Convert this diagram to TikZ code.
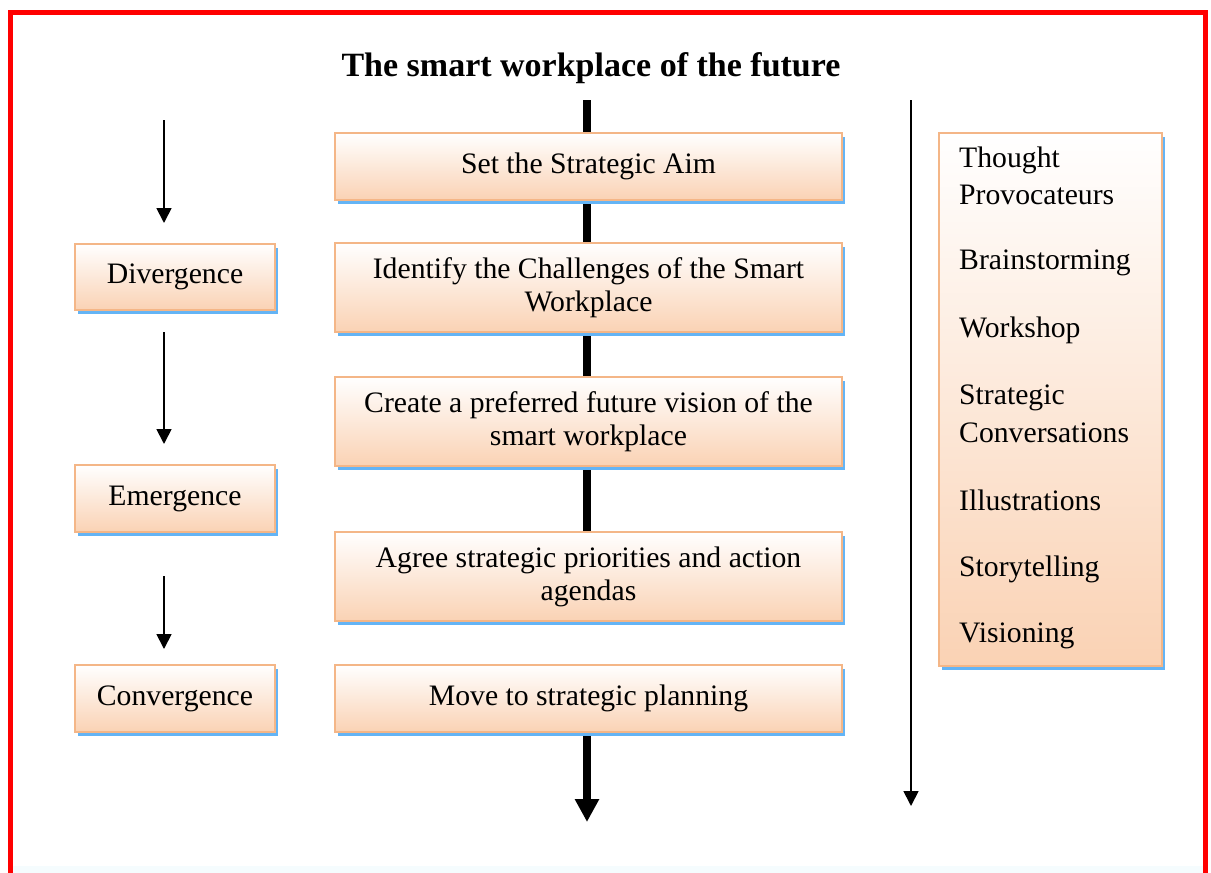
\documentclass[tikz,border=0pt]{standalone}
\usepackage{fontspec}
\setmainfont{Liberation Serif}
\usetikzlibrary{arrows.meta,shadows,calc}
\definecolor{peach}{RGB}{250,210,180}
\definecolor{peachborder}{RGB}{244,182,135}
\definecolor{shadowblue}{RGB}{100,180,245}
\definecolor{framered}{RGB}{255,0,0}
\tikzset{
  pbox/.style={draw=peachborder, line width=1.6pt, top color=white, bottom color=peach,
    drop shadow={shadow xshift=3pt, shadow yshift=-4pt, fill=shadowblue, opacity=1},
    align=center, inner sep=0pt, font=\fontsize{29.7}{33}\selectfont},
  lbl/.style={anchor=west, inner sep=0pt, font=\fontsize{29.7}{33}\selectfont},
  thin/.style={line width=1.8pt, -{Triangle[width=15pt,length=15pt]}},
  thick/.style={line width=7.5pt, -{Triangle[width=23pt,length=23pt]}},
}
\begin{document}
\begin{tikzpicture}[x=1pt,y=-1pt]
\useasboundingbox (0,0) rectangle (1211,873);
\fill[cyan!4] (12,866) rectangle (1205,873);
\draw[framered, line width=5pt] (10.5,12.5) rectangle (1205.5,890);
\node[font=\bfseries\fontsize{34}{40}\selectfont, inner sep=0pt] (title) at (591,68) {The smart workplace of the future};
% centre column
\coordinate (ctop) at (587,100);
\coordinate (cbot) at (587,822);
\draw[line width=7.5pt] (ctop) -- (587,600);
\node[pbox, minimum width=507pt, minimum height=67pt] (b1) at (588.5,166.5) {Set the Strategic Aim};
\node[pbox, minimum width=507pt, minimum height=89pt] (b2) at (588.5,287.5) {Identify the Challenges of the Smart\\Workplace};
\node[pbox, minimum width=507pt, minimum height=89pt] (b3) at (588.5,421.5) {Create a preferred future vision of the\\smart workplace};
\node[pbox, minimum width=507pt, minimum height=89pt] (b4) at (588.5,576.5) {Agree strategic priorities and action\\agendas};
\node[pbox, minimum width=507pt, minimum height=67pt] (b5) at (588.5,698.5) {Move to strategic planning};
\draw[thick] (b5.south -| cbot) ++(0,3) -- (cbot);
% left column
\node[pbox, minimum width=200pt, minimum height=66pt] (div) at (175,277) {Divergence};
\node[pbox, minimum width=200pt, minimum height=67pt] (eme) at (175,498.5) {Emergence};
\node[pbox, minimum width=200pt, minimum height=67pt] (con) at (175,698.5) {Convergence};
\coordinate (l1s) at (164,120); \coordinate (l1e) at (164,223);
\coordinate (l2s) at (164,332); \coordinate (l2e) at (164,444);
\coordinate (l3s) at (164,576); \coordinate (l3e) at (164,649);
\draw[thin] (l1s) -- (l1e);
\draw[thin] (l2s) -- (l2e);
\draw[thin] (l3s) -- (l3e);
% right column
\coordinate (rtop) at (911,100);
\coordinate (rbot) at (911,806);
\draw[thin] (rtop) -- (rbot);
\node[pbox, minimum width=223pt, minimum height=533pt] (rbox) at (1050.5,399.5) {};
\node[lbl] (t1) at (959,160) {Thought};
\node[lbl] (t2) at (959,195) {Provocateurs};
\node[lbl] (t3) at (959,263) {Brainstorming};
\node[lbl] (t4) at (959,330) {Workshop};
\node[lbl] (t5) at (959,398) {Strategic};
\node[lbl] (t6) at (959,433) {Conversations};
\node[lbl] (t7) at (959,500) {Illustrations};
\node[lbl] (t8) at (959,569) {Storytelling};
\node[lbl] (t9) at (959,636) {Visioning};
\end{tikzpicture}
\end{document}
